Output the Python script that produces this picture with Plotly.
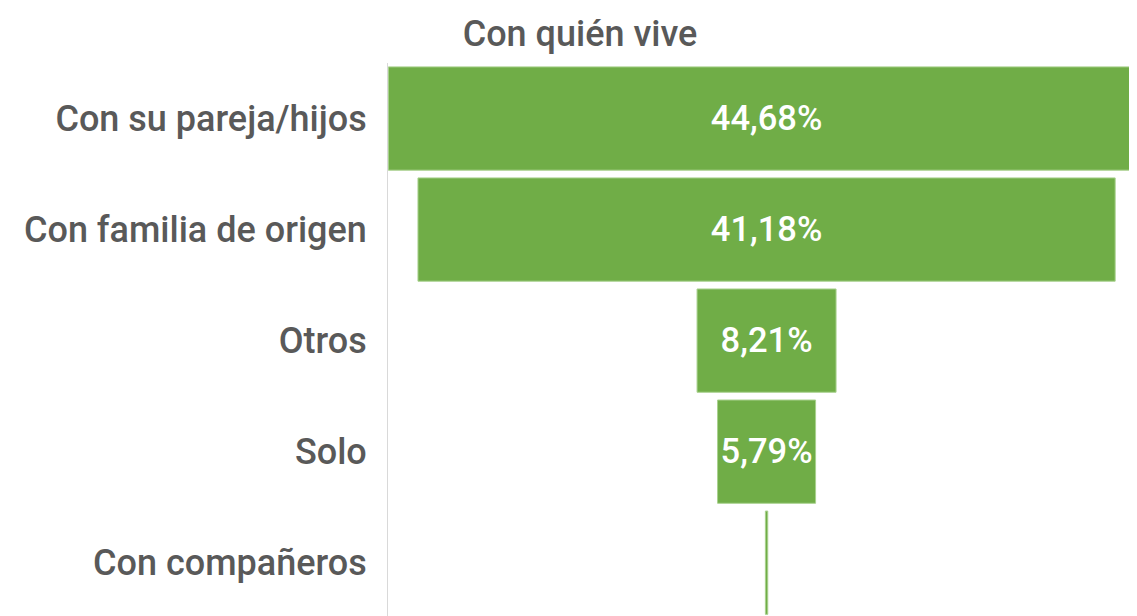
import plotly.graph_objects as go

categories = ["Con su pareja/hijos", "Con familia de origen", "Otros", "Solo", "Con compañeros"]
values = [44.68, 41.18, 8.21, 5.79, 0.14]
labels = ["44,68%", "41,18%", "8,21%", "5,79%", ""]

FONT = "Roboto, 'DejaVu Sans', sans-serif"
W, H = 1129, 608

fig = go.Figure(go.Funnel(
    y=categories,
    x=values,
    text=labels,
    textinfo="text",
    textposition="inside",
    insidetextanchor="middle",
    textfont=dict(color="white", size=36, family=FONT, weight=500),
    marker=dict(color="#70AD47", line=dict(color="#A9D18E", width=1)),
    connector=dict(visible=False),
))

fig.update_layout(
    width=W, height=H,
    margin=dict(l=380, r=0, t=55, b=0),
    paper_bgcolor="white", plot_bgcolor="white",
    funnelgap=0.07,
    showlegend=False,
    uniformtext=dict(minsize=8, mode="show"),
    title=dict(text="Con quién vive", x=572/W, xanchor="center", xref="container",
               y=1-25/H, yanchor="middle", yref="container",
               font=dict(size=36, color="#595959", family=FONT, weight=500)),
    xaxis=dict(range=[-22.36, 21.88], visible=False, fixedrange=True),
    yaxis=dict(range=[4.48, -0.5], autorange=False, showline=True, linecolor="#d9d9d9", linewidth=1,
               ticks="", ticklabelstandoff=13, showgrid=False,
               tickfont=dict(size=36, color="#595959", family=FONT, weight=500)),
)

fig.write_html("out.html")
